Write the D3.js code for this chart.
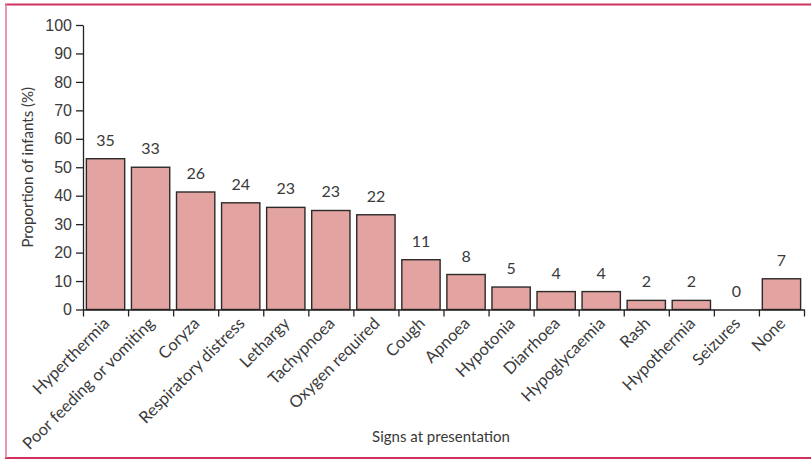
<!DOCTYPE html>
<html>
<head>
<meta charset="utf-8">
<script src="https://cdn.jsdelivr.net/npm/d3@7"></script>
<style>
  body { margin: 0; background: #fff; }
  svg { display: block; font-family: Lato, "Open Sans", sans-serif; }
  .axis path, .axis line { stroke: #222; stroke-width: 1.3; }
  .axis text { fill: #3a3a3a; font-size: 16px; }
  .bar { fill: #e2a3a1; stroke: #2b2b2b; stroke-width: 1.4; }
  .count { fill: #3a3a3a; font-size: 16px; text-anchor: middle; }
  .cat { fill: #3a3a3a; font-size: 16.5px; }
  .title { fill: #3a3a3a; font-size: 15px; }
</style>
</head>
<body>
<svg id="chart" width="811" height="460"></svg>
<script>
// signs at presentation
const signs = [
  "Hyperthermia", "Poor feeding or vomiting", "Coryza", "Respiratory distress",
  "Lethargy", "Tachypnoea", "Oxygen required", "Cough", "Apnoea", "Hypotonia",
  "Diarrhoea", "Hypoglycaemia", "Rash", "Hypothermia", "Seizures", "None"
];
// proportion of infants (%) - bar heights
const pct = [53.0, 50.0, 41.3, 37.5, 35.9, 34.8, 33.3, 17.5, 12.3, 7.9, 6.3, 6.3, 3.2, 3.2, 0, 10.8];
// number of infants - labels above bars
const counts = [35, 33, 26, 24, 23, 23, 22, 11, 8, 5, 4, 4, 2, 2, 0, 7];
const yTicks = [0, 10, 20, 30, 40, 50, 60, 70, 80, 90, 100];

const svg = d3.select("#chart");
const m = { left: 83, right: 804, top: 25, bottom: 309.5 };

// frame lines
svg.append("line").attr("x1", 5).attr("x2", 811).attr("y1", 4.5).attr("y2", 4.5)
  .attr("stroke", "#d0305e").attr("stroke-width", 2);
svg.append("line").attr("x1", 5).attr("x2", 811).attr("y1", 458).attr("y2", 458)
  .attr("stroke", "#d0305e").attr("stroke-width", 2);
svg.append("line").attr("x1", 6).attr("x2", 6).attr("y1", 4).attr("y2", 458)
  .attr("stroke", "#e0799a").attr("stroke-width", 1.5);

const x = d3.scaleBand().domain(signs).range([m.left, m.right]).paddingInner(0.15).paddingOuter(0.075);
const y = d3.scaleLinear().domain([0, 100]).range([m.bottom, m.top]);

// y axis
svg.append("g").attr("class", "axis")
  .attr("transform", `translate(${m.left},0)`)
  .call(d3.axisLeft(y).tickValues(yTicks).tickSize(7).tickPadding(4).tickSizeOuter(0));

const rows = signs.map((s, i) => ({ s, v: pct[i], n: counts[i] }));

// bars
svg.append("g").selectAll("rect")
  .data(rows)
  .join("rect")
  .attr("class", "bar")
  .attr("x", (d) => x(d.s))
  .attr("width", x.bandwidth())
  .attr("y", (d) => y(d.v))
  .attr("height", (d) => y(0) - y(d.v))
  .style("display", (d) => (d.v > 0 ? null : "none"));

// count labels
svg.append("g").selectAll("text")
  .data(rows)
  .join("text")
  .attr("class", "count")
  .attr("x", (d) => x(d.s) + x.bandwidth() / 2)
  .attr("y", (d) => y(d.v) - 13)
  .text((d) => d.n);

// x axis: ticks at band boundaries
const xb = d3.scaleLinear().domain([0, signs.length]).range([m.left, m.right]);
svg.append("g").attr("class", "axis")
  .attr("transform", `translate(0,${m.bottom})`)
  .call(d3.axisBottom(xb).tickValues(d3.range(signs.length + 1)).tickSize(7).tickSizeOuter(0).tickFormat(""));

// category labels
svg.append("g").selectAll("text")
  .data(signs)
  .join("text")
  .attr("class", "cat")
  .attr("text-anchor", "end")
  .attr("transform", (d) => `translate(${x(d) + x.bandwidth() / 2 + 5},${m.bottom + 15}) rotate(-45)`)
  .text((d) => d);

// axis titles
svg.append("text").attr("class", "title")
  .attr("text-anchor", "middle")
  .attr("transform", `translate(33,${(m.top + m.bottom) / 2}) rotate(-90)`)
  .text("Proportion of infants (%)");
svg.append("text").attr("class", "title")
  .attr("text-anchor", "middle")
  .attr("x", 441).attr("y", 442)
  .text("Signs at presentation");
</script>
</body>
</html>
